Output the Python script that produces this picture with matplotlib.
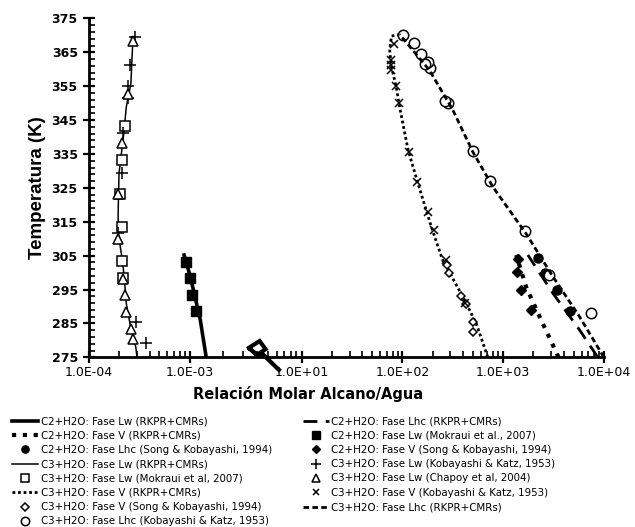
import numpy as np
import matplotlib
matplotlib.use("Agg")
import matplotlib.pyplot as plt
from matplotlib.ticker import FixedLocator, FixedFormatter

# --- datos (T en K, x = relación molar alcano/agua) ---

# C3+H2O fase Lw
c3_lw_rkpr_x = [3.00e-4, 2.92e-4, 2.63e-4, 2.35e-4, 2.24e-4, 2.15e-4, 2.05e-4, 1.96e-4, 1.95e-4, 1.99e-4, 2.22e-4, 2.35e-4, 2.61e-4, 2.71e-4, 2.64e-4]
c3_lw_rkpr_T = [275.0, 278.0, 283.0, 290.9, 298.8, 303.5, 307.6, 312.0, 317.5, 329.3, 341.1, 348.9, 355.8, 366.6, 369.6]
c3_lw_mok_x = [2.19e-4, 2.14e-4, 2.11e-4, 2.03e-4, 2.15e-4, 2.27e-4]
c3_lw_mok_T = [298.3, 303.4, 313.5, 323.2, 333.2, 343.2]
c3_lw_kk_x = [3.72e-4, 2.92e-4, 1.95e-4, 2.15e-4, 2.19e-4, 2.45e-4, 2.45e-4, 2.55e-4, 2.85e-4]
c3_lw_kk_T = [279.1, 285.5, 311.6, 329.5, 341.1, 351.4, 355.0, 361.2, 369.6]
c3_lw_chapoy_x = [2.75e-4, 2.60e-4, 2.34e-4, 2.28e-4, 2.19e-4, 1.95e-4, 1.95e-4, 2.14e-4, 2.42e-4, 2.71e-4]
c3_lw_chapoy_T = [280.3, 283.3, 288.5, 293.4, 298.0, 310.0, 323.2, 338.1, 352.6, 368.4]

# C2+H2O fase Lw
c2_lw_rkpr_x = [3.9e-3, 2.4e-3, 1.45e-3, 1.0e-3, 8.8e-4]
c2_lw_rkpr_T = [275.0, 286.0, 293.9, 299.5, 305.2]
c2_lw_mok_x = [1.73e-3, 1.25e-3, 1.02e-3, 9.12e-4]
c2_lw_mok_T = [288.7, 293.4, 298.3, 303.2]

# trazo suelto junto al eje
trazo_x = [0.131, 0.316, 0.518, 0.254, 0.131, 0.254, 0.40, 1.55]
trazo_T = [277.8, 279.8, 277.4, 275.7, 277.8, 275.7, 276.0, 271.3]

# C3+H2O fase V
c3_v_rkpr_x = [705, 541, 398, 251, 194, 143, 114, 94, 87, 78, 75, 78, 94]
c3_v_rkpr_T = [275.0, 285.0, 292.9, 303.7, 313.5, 326.3, 336.2, 348.9, 354.8, 360.7, 365.6, 369.8, 370.3]
c3_v_kk_x = [414, 272, 208, 179, 141, 116, 92, 86, 78, 78, 78, 82]
c3_v_kk_T = [291.1, 303.7, 312.6, 318.0, 326.8, 335.6, 349.9, 355.0, 359.7, 361.2, 362.7, 367.6]
c3_v_song_x = [501, 501, 424, 384, 289, 279]
c3_v_song_T = [282.5, 285.4, 290.7, 293.1, 299.8, 302.2]

# C3+H2O fase Lhc
c3_lhc_rkpr_x = [10000, 5730, 3120, 1690, 791, 501, 317, 186, 94]
c3_lhc_rkpr_T = [275.0, 287.0, 298.8, 311.5, 325.3, 335.6, 348.0, 359.7, 370.3]
c3_lhc_kk_x = [7480, 2884, 1667, 733, 501, 283, 268, 189, 179, 166, 154, 130, 101]
c3_lhc_kk_T = [288.0, 299.3, 312.3, 327.0, 335.9, 350.1, 350.7, 360.3, 362.2, 361.7, 364.5, 367.8, 370.1]

# C2+H2O fase V
c2_v_rkpr_x = [3550, 2300, 1690, 1350]
c2_v_rkpr_T = [275.0, 287.0, 295.8, 305.2]
c2_v_song_x = [1900, 1510, 1370, 1400]
c2_v_song_T = [288.9, 294.9, 300.2, 304.1]

# C2+H2O fase Lhc
c2_lhc_rkpr_x = [8700, 5730, 3120, 1760]
c2_lhc_rkpr_T = [275.0, 283.1, 293.9, 305.2]
c2_lhc_song_x = [4560, 3410, 2580, 2210]
c2_lhc_song_T = [288.7, 294.9, 299.8, 304.2]

xticks = [1e-4, 1e-3, 1e1, 1e2, 1e3, 1e4]
xtick_labels = ["1.0E-04", "1.0E-03", "1.0E+01", "1.0E+02", "1.0E+03", "1.0E+04"]

# eje x logaritmico con el tramo 1e-3 .. 1e1 comprimido en una sola decada
MID = 1.11


def fwd(x):
    lx = np.log10(np.clip(np.asarray(x, dtype=float), 1e-300, None))
    return np.where(lx <= -3, lx,
                    np.where(lx <= 1, -3 + (lx + 3) / 4 * MID, lx - 4 + MID))


def inv(y):
    y = np.asarray(y, dtype=float)
    return np.where(y <= -3, 10.0 ** y,
                    np.where(y <= -3 + MID, 10.0 ** (-3 + (y + 3) / MID * 4),
                             10.0 ** (y + 4 - MID)))


plt.rcParams["font.family"] = "DejaVu Sans"

fig = plt.figure(figsize=(6.35, 5.27), dpi=100)
ax = fig.add_axes([0.140, 0.322, 0.811, 0.643])
ax.set_xscale("function", functions=(fwd, inv))

open_mk = dict(markerfacecolor="white", markeredgecolor="black", markeredgewidth=1.1, linestyle="none")
fill_mk = dict(color="black", linestyle="none")

h_c2_lw, = ax.plot(c2_lw_rkpr_x, c2_lw_rkpr_T, color="black", lw=2.6, label="C2+H2O: Fase Lw (RKPR+CMRs)")
h_c2_v, = ax.plot(c2_v_rkpr_x, c2_v_rkpr_T, color="black", lw=3, linestyle=(0, (1, 1.6)),
                  label="C2+H2O: Fase V (RKPR+CMRs)")
h_c2_lhc_s, = ax.plot(c2_lhc_song_x, c2_lhc_song_T, marker="o", markersize=6.5, **fill_mk,
                      label="C2+H2O: Fase Lhc (Song & Kobayashi, 1994)")
h_c3_lw, = ax.plot(c3_lw_rkpr_x, c3_lw_rkpr_T, color="black", lw=1.1, label="C3+H2O: Fase Lw (RKPR+CMRs)")
h_c3_lw_m, = ax.plot(c3_lw_mok_x, c3_lw_mok_T, marker="s", markersize=6.5, **open_mk,
                     label="C3+H2O: Fase Lw (Mokraui et al, 2007)")
h_c3_v, = ax.plot(c3_v_rkpr_x, c3_v_rkpr_T, color="black", lw=2, linestyle=(0, (1, 1)),
                  label="C3+H2O: Fase V (RKPR+CMRs)")
h_c3_v_s, = ax.plot(c3_v_song_x, c3_v_song_T, marker="D", markersize=4.5, **open_mk,
                    label="C3+H2O: Fase V (Song & Kobayashi, 1994)")
h_c3_lhc_k, = ax.plot(c3_lhc_kk_x, c3_lhc_kk_T, marker="o", markersize=7.5, **open_mk,
                      label="C3+H2O: Fase Lhc (Kobayashi & Katz, 1953)")

h_c2_lhc, = ax.plot(c2_lhc_rkpr_x, c2_lhc_rkpr_T, color="black", lw=2, linestyle=(0, (5, 3)),
                    label="C2+H2O: Fase Lhc (RKPR+CMRs)")
h_c2_lw_m, = ax.plot(c2_lw_mok_x, c2_lw_mok_T, marker="s", markersize=6.5, **fill_mk,
                     label="C2+H2O: Fase Lw (Mokraui et al., 2007)")
h_c2_v_s, = ax.plot(c2_v_song_x, c2_v_song_T, marker="D", markersize=5, **fill_mk,
                    label="C2+H2O: Fase V (Song & Kobayashi, 1994)")
h_c3_lw_k, = ax.plot(c3_lw_kk_x, c3_lw_kk_T, marker="+", markersize=9, markeredgewidth=1.1,
                     color="black", linestyle="none", label="C3+H2O: Fase Lw (Kobayashi & Katz, 1953)")
h_c3_lw_c, = ax.plot(c3_lw_chapoy_x, c3_lw_chapoy_T, marker="^", markersize=7.5, **open_mk,
                     label="C3+H2O: Fase Lw (Chapoy et al, 2004)")
h_c3_v_k, = ax.plot(c3_v_kk_x, c3_v_kk_T, marker="x", markersize=6, markeredgewidth=1.1,
                    color="black", linestyle="none", label="C3+H2O: Fase V (Kobayashi & Katz, 1953)")
h_c3_lhc, = ax.plot(c3_lhc_rkpr_x, c3_lhc_rkpr_T, color="black", lw=2, linestyle=(0, (2, 1.2)),
                    label="C3+H2O: Fase Lhc (RKPR+CMRs)")

ax.plot(trazo_x, trazo_T, color="black", lw=3, solid_joinstyle="miter", clip_on=False, zorder=5)

# ejes
ax.set_xlim(1e-4, 1e4)
ax.set_ylim(275, 375)
ax.xaxis.set_major_locator(FixedLocator(xticks))
ax.xaxis.set_major_formatter(FixedFormatter(xtick_labels))
minors = [k * 1e-4 for k in range(2, 10)]
minors += [10.0 ** (-3 + 4 * np.log10(k)) for k in range(2, 10)]
for dec in (1e1, 1e2, 1e3):
    minors += [k * dec for k in range(2, 10)]
ax.xaxis.set_minor_locator(FixedLocator(minors))
ax.xaxis.set_minor_formatter(FixedFormatter([""] * len(minors)))
ax.set_yticks(np.arange(275, 376, 10))
ax.set_yticks(np.arange(275, 376, 2), minor=True)

for s in ("top", "right"):
    ax.spines[s].set_visible(False)
for s in ("left", "bottom"):
    ax.spines[s].set_linewidth(2)

ax.tick_params(which="major", direction="inout", length=9, width=1.6, labelsize=9)
ax.tick_params(which="minor", direction="in", length=4, width=1.2)
ax.tick_params(axis="x", pad=2)
for lab in ax.get_yticklabels():
    lab.set_fontweight("bold")

ax.set_xlabel("Relación Molar Alcano/Agua", fontsize=10.5, fontweight="bold")
ax.xaxis.set_label_coords(0.425, -0.085)
ax.set_ylabel("Temperatura (K)", fontsize=13.5, fontweight="bold", family="Liberation Sans", labelpad=4)

handles = [h_c2_lw, h_c2_v, h_c2_lhc_s, h_c3_lw, h_c3_lw_m, h_c3_v, h_c3_v_s, h_c3_lhc_k,
           h_c2_lhc, h_c2_lw_m, h_c2_v_s, h_c3_lw_k, h_c3_lw_c, h_c3_v_k, h_c3_lhc]
fig.legend(handles=handles, loc="upper left", bbox_to_anchor=(0.012, 0.218), ncol=2, frameon=False,
           fontsize=7.4, handlelength=2.6, handletextpad=0.2, columnspacing=3.0,
           labelspacing=0.42, markerscale=0.8, borderaxespad=0)

fig.savefig("out.png", dpi=100)
